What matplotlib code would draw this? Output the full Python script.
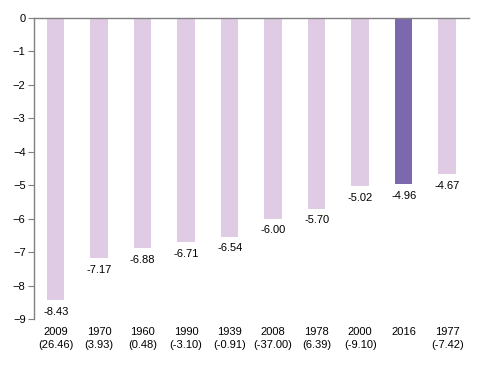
import numpy as np
import matplotlib.pyplot as plt

plt.rcParams['font.family'] = ['Liberation Sans', 'DejaVu Sans']

years = ['2009', '1970', '1960', '1990', '1939', '2008', '1978', '2000', '2016', '1977']
annual = ['(26.46)', '(3.93)', '(0.48)', '(-3.10)', '(-0.91)', '(-37.00)', '(6.39)', '(-9.10)', '', '(-7.42)']
values = [-8.43, -7.17, -6.88, -6.71, -6.54, -6.00, -5.70, -5.02, -4.96, -4.67]
highlight = '2016'

light = '#DFCCE4'
dark = '#7B68AE'
colors = [dark if y == highlight else light for y in years]

fig = plt.figure(figsize=(4.92, 3.68), dpi=100)
ax = fig.add_axes([0.069, 0.133, 0.884, 0.818])

x = np.arange(len(years))
ax.bar(x, values, width=0.4, color=colors)

# value labels under each bar
for xi, v in zip(x, values):
    ax.text(xi, v - 0.2, f'{v:.2f}', ha='center', va='top', fontsize=8)

ax.set_xlim(-0.5, len(years) - 0.5)
ax.set_ylim(-9, 0)
ax.set_yticks(range(-9, 1))
ax.set_xticks(x)
ax.set_xticklabels([f'{y}\n{a}' for y, a in zip(years, annual)], fontsize=8, linespacing=1.3)
ax.tick_params(axis='x', length=0, pad=6)
ax.tick_params(axis='y', length=4, color='#808080', labelsize=8, pad=2)

for s in ['right', 'bottom']:
    ax.spines[s].set_visible(False)
for s in ['left', 'top']:
    ax.spines[s].set_color('#808080')
    ax.spines[s].set_linewidth(1)

fig.savefig('out.png', dpi=100)
